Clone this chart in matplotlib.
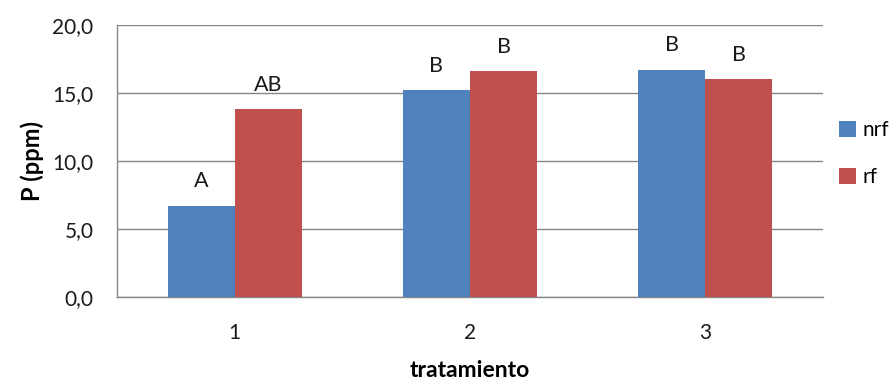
import numpy as np
import matplotlib
matplotlib.use("Agg")
import matplotlib.pyplot as plt

# P (ppm) per treatment
treatments = ["1", "2", "3"]
nrf = [6.7, 15.2, 16.7]
rf = [13.8, 16.6, 16.0]
nrf_letters = ["A", "B", "B"]
rf_letters = ["AB", "B", "B"]

plt.rcParams["font.family"] = ["Lato", "DejaVu Sans"]

fig = plt.figure(figsize=(8.94, 3.81), dpi=100)
ax = fig.add_axes([0.1309, 0.2205, 0.7897, 0.7139])

x = np.arange(len(treatments))
w = 0.285
b1 = ax.bar(x - w / 2, nrf, w, color="#4F81BD", label="nrf", zorder=3)
b2 = ax.bar(x + w / 2, rf, w, color="#C0504D", label="rf", zorder=3)

# significance letters above each bar
for bars, letters in ((b1, nrf_letters), (b2, rf_letters)):
    for bar, txt in zip(bars, letters):
        ax.annotate(txt, (bar.get_x() + bar.get_width() / 2, bar.get_height()),
                    xytext=(0, 10.5), textcoords="offset points",
                    ha="center", va="bottom", fontsize=15.5, color="#1a1a1a")

ax.set_xlim(-0.5, 2.5)
ax.set_ylim(0, 20)
ax.set_yticks([0, 5, 10, 15, 20])
ax.set_yticklabels(["0,0", "5,0", "10,0", "15,0", "20,0"])
ax.set_xticks(x)
ax.set_xticklabels(treatments)
ax.yaxis.grid(True, color="#868686", linewidth=1, zorder=0)
ax.tick_params(axis="y", length=0, pad=17, labelsize=15, colors="#1a1a1a")
ax.tick_params(axis="x", length=0, pad=19, labelsize=15, colors="#1a1a1a")

for s in ("top", "right"):
    ax.spines[s].set_visible(False)
for s in ("left", "bottom"):
    ax.spines[s].set_color("#868686")
    ax.spines[s].set_linewidth(1)

ax.set_ylabel("P (ppm)", fontsize=17, fontweight="bold", labelpad=6)
ax.set_xlabel("tratamiento", fontsize=16.5, fontweight="bold", labelpad=12)

fig.legend(handles=[b1, b2], loc="upper left", bbox_to_anchor=(0.939, 0.685),
           frameon=False, fontsize=15, handlelength=0.8, handleheight=0.8,
           handletextpad=0.3, labelspacing=1.3, borderaxespad=0, borderpad=0)

fig.savefig("out.png", dpi=100)
